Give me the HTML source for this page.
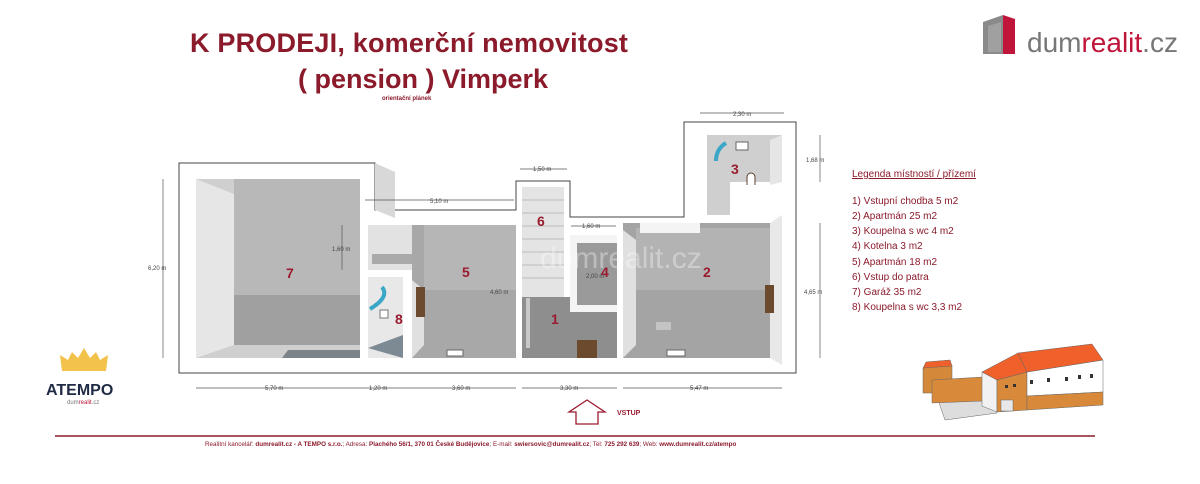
<!DOCTYPE html>
<html><head><meta charset="utf-8"><style>
body{margin:0;width:1200px;height:484px;background:#fff;overflow:hidden;font-family:"Liberation Sans",sans-serif;position:relative}
.t{position:absolute;white-space:nowrap}
</style></head><body>
<div class="t" style="left:190px;top:28px;font-size:27px;font-weight:bold;color:#8b1a2b;letter-spacing:0.2px">K PRODEJI, komerční nemovitost</div>
<div class="t" style="left:298px;top:64px;font-size:27px;font-weight:bold;color:#8b1a2b">( pension ) Vimperk</div>
<div class="t" style="left:382px;top:96px;font-size:6px;font-weight:bold;color:#8b1a2b">orientační plánek</div>

<svg style="position:absolute;left:975px;top:8px" width="220" height="50">
<polygon points="8,14 28,7 28,46 8,46" fill="#8a8a8a"/>
<polygon points="28,7 40,11 40,46 28,46" fill="#c0153a"/>
<polygon points="13,18 26,14 26,44 13,44" fill="#a0a0a0"/>
<text x="52" y="44" font-family="Liberation Sans,sans-serif" font-size="28" fill="#777">dum<tspan fill="#c0153a">realit</tspan>.cz</text>
</svg>

<svg style="position:absolute;left:0;top:0" width="1200" height="484" font-family="Liberation Sans,sans-serif">
<polygon points="179,163 375,163 375,210 516,210 516,181 570,181 570,217 684,217 684,122 796,122 796,373 179,373" fill="#fff" stroke="#444" stroke-width="1"/>
<polygon points="375,163 395,172 395,218 375,210" fill="#d8d8d8"/>
<polygon points="196,179 360,179 360,358 196,358" fill="#cfcfcf"/>
<polygon points="234,179 360,179 360,295 234,295" fill="#b8b8b8"/>
<polygon points="234,295 360,295 360,345 234,345" fill="#a0a0a0"/>
<polygon points="196,179 234,194 234,345 196,358" fill="#e6e6e6"/>
<polygon points="282,358 288,350 360,350 360,358" fill="#7b8288"/>
<polygon points="368,225 430,225 430,270 368,270" fill="#e2e2e2"/>
<rect x="372" y="254" width="50" height="10" fill="#aaa"/>
<polygon points="368,277 403,277 403,358 368,358" fill="#e8e8e8"/>
<polygon points="368,348 403,335 403,358" fill="#7d8a93"/>
<path d="M382,287 q8,10 -12,22" stroke="#3aa7c7" stroke-width="4" fill="none"/>
<rect x="380" y="310" width="8" height="8" fill="#fff" stroke="#777"/>
<polygon points="412,225 516,225 516,358 412,358" fill="#a8a8a8"/>
<polygon points="424,225 516,225 516,290 424,290" fill="#b6b6b6"/>
<polygon points="412,280 424,290 424,345 412,358" fill="#e0e0e0"/>
<rect x="416" y="287" width="9" height="30" fill="#6b4a2e"/>
<rect x="447" y="350" width="16" height="6" fill="#fff" stroke="#666"/>
<polygon points="522,187 564,187 564,297 522,297" fill="#e4e4e4"/>
<g stroke="#bbb" stroke-width="1"><line x1="522" y1="200" x2="564" y2="200"/><line x1="522" y1="213" x2="564" y2="213"/><line x1="522" y1="226" x2="564" y2="226"/><line x1="522" y1="239" x2="564" y2="239"/><line x1="522" y1="252" x2="564" y2="252"/><line x1="522" y1="265" x2="564" y2="265"/><line x1="522" y1="278" x2="564" y2="278"/></g>
<polygon points="522,297 570,297 570,312 617,312 617,358 522,358" fill="#8e8e8e"/>
<rect x="526" y="298" width="4" height="50" fill="#c8c8c8"/>
<rect x="577" y="340" width="20" height="18" fill="#6b4a2e"/>
<polygon points="570,235 617,235 617,312 570,312" fill="#f4f4f4"/>
<polygon points="577,243 617,243 617,305 577,305" fill="#9a9a9a"/>
<polygon points="623,223 770,223 770,358 623,358" fill="#a4a4a4"/>
<polygon points="636,228 770,228 770,290 636,290" fill="#b3b3b3"/>
<polygon points="623,230 636,240 636,345 623,358" fill="#e0e0e0"/>
<polygon points="770,223 782,215 782,365 770,358" fill="#e8e8e8"/>
<rect x="640" y="223" width="60" height="10" fill="#f4f4f4"/>
<rect x="765" y="285" width="9" height="28" fill="#6b4a2e"/>
<rect x="667" y="350" width="18" height="6" fill="#fff" stroke="#666"/>
<rect x="656" y="322" width="15" height="8" fill="#c4c4c4"/>
<polygon points="707,135 782,135 782,182 730,182 730,215 707,215" fill="#cfcfcf"/>
<polygon points="770,140 782,135 782,182 770,185" fill="#e6e6e6"/>
<path d="M726,143 q-10,6 -10,18" stroke="#3aa7c7" stroke-width="4" fill="none"/>
<rect x="736" y="142" width="12" height="8" fill="#fff" stroke="#666"/>
<path d="M747,185 v-8 a4,4 0 0 1 8,0 v8" fill="#fff" stroke="#5a4030"/>
<g font-size="14" font-weight="bold" fill="#9b1b30">
<text x="286" y="278">7</text><text x="462" y="277">5</text><text x="395" y="324">8</text>
<text x="537" y="226">6</text><text x="551" y="324">1</text><text x="601" y="277">4</text>
<text x="703" y="277">2</text><text x="731" y="174">3</text>
</g>
<text x="540" y="268" font-size="30" fill="#fff" opacity="0.35">dumrealit.cz</text>
<g stroke="#555" stroke-width="0.7" fill="none">
<line x1="196" y1="388" x2="516" y2="388"/><line x1="522" y1="388" x2="617" y2="388"/><line x1="623" y1="388" x2="782" y2="388"/>
<line x1="163" y1="179" x2="163" y2="358"/><line x1="820" y1="223" x2="820" y2="358"/><line x1="820" y1="135" x2="820" y2="182"/>
<line x1="365" y1="200" x2="514" y2="200"/><line x1="520" y1="169" x2="567" y2="169"/><line x1="700" y1="113" x2="784" y2="113"/>
<line x1="342" y1="225" x2="342" y2="270"/><line x1="571" y1="226" x2="616" y2="226"/>
</g>
<g font-size="6" fill="#444">
<text x="265" y="390">5,70 m</text><text x="369" y="390">1,20 m</text><text x="452" y="390">3,60 m</text><text x="560" y="390">3,30 m</text><text x="690" y="390">5,47 m</text>
<text x="148" y="270">6,20 m</text><text x="804" y="294">4,65 m</text><text x="806" y="162">1,68 m</text>
<text x="430" y="203">5,10 m</text><text x="533" y="171">1,50 m</text><text x="733" y="116">2,30 m</text>
<text x="332" y="251">1,60 m</text><text x="582" y="228">1,60 m</text><text x="490" y="294">4,60 m</text><text x="586" y="278">2,00 m</text>
</g>
<polygon points="587,400 605,412 598,412 598,424 576,424 576,412 569,412" fill="#fff" stroke="#9b1b30" stroke-width="1.3"/>
<text x="617" y="415" font-size="7" font-weight="bold" fill="#9b1b30">VSTUP</text>
<line x1="55" y1="436" x2="1095" y2="436" stroke="#8b1a2b" stroke-width="1.5"/>
<text x="205" y="446" font-size="6.3" fill="#8b1a2b">Realitní kancelář: <tspan font-weight="bold">dumrealit.cz - A TEMPO s.r.o.</tspan>; Adresa: <tspan font-weight="bold">Plachého 56/1, 370 01 České Budějovice</tspan>; E-mail: <tspan font-weight="bold">swiersovic@dumrealit.cz</tspan>; Tel: <tspan font-weight="bold">725 292 639</tspan>; Web: <tspan font-weight="bold">www.dumrealit.cz/atempo</tspan></text>
<g font-size="10" fill="#8b1a2b">
<text x="852" y="177" text-decoration="underline">Legenda místností / přízemí</text>
<text x="852" y="204">1) Vstupní chodba 5 m2</text>
<text x="852" y="219">2) Apartmán 25 m2</text>
<text x="852" y="234">3) Koupelna s wc 4 m2</text>
<text x="852" y="249">4) Kotelna 3 m2</text>
<text x="852" y="265">5) Apartmán 18 m2</text>
<text x="852" y="280">6) Vstup do patra</text>
<text x="852" y="295">7) Garáž 35 m2</text>
<text x="852" y="310">8) Koupelna s wc 3,3 m2</text>
</g>
<polygon points="62,371 60,355 68,360 72,352 78,358 84,348 90,358 96,352 100,360 108,355 106,371" fill="#f2c24a"/>
<text x="46" y="395" font-size="16" font-weight="bold" fill="#1f2a44">ATEMPO</text>
<text x="67" y="404" font-size="6" fill="#777">dum<tspan fill="#c0153a">realit</tspan>.cz</text>
<!-- building 3d -->
<g stroke="#666" stroke-width="0.5">
<polygon points="937,397 985,395 997,413 945,420" fill="#ddd"/>
<polygon points="923,368 952,365 952,393 923,393" fill="#d4883a"/>
<polygon points="923,368 926,362 950,360 952,366" fill="#f0602a"/>
<polygon points="932,380 983,377 983,401 932,403" fill="#d88a3a"/>
<polygon points="982,372 997,380 997,412 982,406" fill="#f2f2f2"/>
<polygon points="997,380 1027,372 1027,410 997,412" fill="#d88a3a"/>
<polygon points="982,372 1018,353 1027,372 997,380" fill="#f0602a"/>
<rect x="1001" y="400" width="12" height="11" fill="#e8e8e8"/>
<polygon points="1027,372 1103,360 1103,392 1027,396" fill="#fff"/>
<polygon points="1027,396 1103,392 1103,405 1027,410" fill="#d88a3a"/>
<polygon points="1018,353 1092,344 1103,360 1027,372" fill="#f0602a"/>
</g>
<g fill="#333"><rect x="1030" y="380" width="3" height="4"/><rect x="1047" y="378" width="3" height="4"/><rect x="1065" y="377" width="3" height="4"/><rect x="1078" y="375" width="3" height="4"/><rect x="1090" y="374" width="3" height="4"/><rect x="1005" y="385" width="3" height="3"/><rect x="1013" y="384" width="3" height="3"/></g>
</svg>
</body></html>
